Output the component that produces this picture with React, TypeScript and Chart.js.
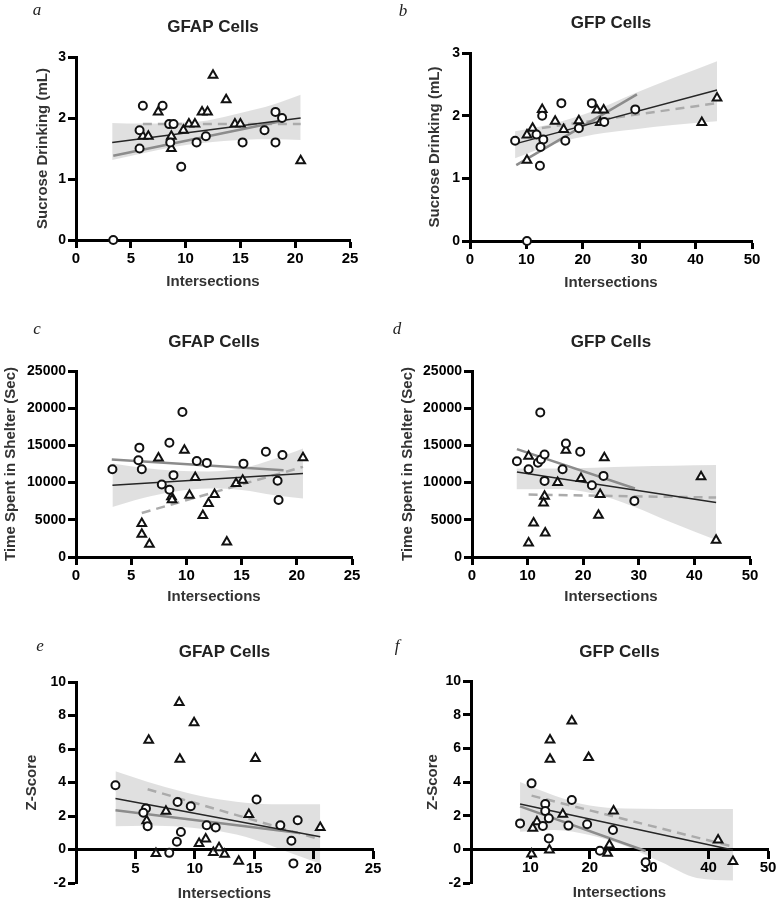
import React, { useEffect, useRef } from "react";
import { Chart, registerables } from "chart.js";
Chart.register(...registerables);

// ---------- Panel a: GFAP Cells, Sucrose Drinking ----------
const aCircleX = [3.4, 6.1, 5.8, 5.8, 7.9, 8.5, 8.9, 8.6, 9.6, 11.0, 11.85, 15.2, 17.2, 18.2, 18.8, 18.2];
const aCircleY = [0, 2.2, 1.8, 1.5, 2.2, 1.9, 1.9, 1.6, 1.2, 1.6, 1.7, 1.6, 1.8, 2.1, 2.0, 1.6];
const aTriX = [6.1, 6.6, 7.5, 8.7, 8.7, 9.8, 10.3, 10.85, 11.5, 12.0, 12.5, 13.7, 14.5, 15.0, 20.5];
const aTriY = [1.7, 1.7, 2.1, 1.7, 1.5, 1.8, 1.9, 1.9, 2.1, 2.1, 2.7, 2.3, 1.9, 1.9, 1.3];
const aAllFitX = [3.3, 20.5];
const aAllFitY = [1.6, 2.0];
const aCircFitX = [3.4, 18.8];
const aCircFitY = [1.38, 1.95];
const aTriFitX = [6.1, 20.5];
const aTriFitY = [1.9, 1.9];
const aBandX = [3.3, 6, 9, 12, 15, 18, 20.5];
const aBandUp = [1.92, 1.91, 1.92, 1.96, 2.08, 2.22, 2.38];
const aBandLo = [1.31, 1.42, 1.53, 1.6, 1.64, 1.65, 1.64];

// ---------- Panel b: GFP Cells, Sucrose Drinking ----------
const bCircleX = [8.0, 10.1, 11.8, 13.0, 12.5, 12.4, 12.8, 16.2, 16.9, 19.3, 21.6, 23.8, 29.3];
const bCircleY = [1.6, 0, 1.7, 1.62, 1.5, 1.2, 2.0, 2.2, 1.6, 1.8, 2.2, 1.9, 2.1];
const bTriX = [10.1, 11.1, 12.8, 15.1, 16.6, 19.3, 22.5, 23.7, 23.1, 10.1, 41.1, 43.8];
const bTriY = [1.69, 1.8, 2.1, 1.91, 1.78, 1.92, 2.09, 2.09, 1.89, 1.29, 1.89, 2.28];
const bAllFitX = [8, 43.8];
const bAllFitY = [1.55, 2.41];
const bCircFitX = [8.2, 29.6];
const bCircFitY = [1.21, 2.34];
const bTriFitX = [10.1, 43.8];
const bTriFitY = [1.77, 2.2];
const bBandX = [8, 15, 22, 29, 36, 43.8];
const bBandUp = [1.75, 1.88, 2.08, 2.35, 2.6, 2.87];
const bBandLo = [1.32, 1.55, 1.7, 1.78, 1.85, 1.91];

// ---------- Panel c: GFAP Cells, Time Spent in Shelter ----------
const cCircleX = [3.3, 5.74, 5.65, 5.96, 8.46, 9.64, 8.83, 7.77, 8.46, 10.94, 11.85, 15.17, 17.2, 18.7, 18.26, 18.35];
const cCircleY = [11800, 14700, 13000, 11800, 15350, 19500, 11000, 9750, 9050, 12900, 12650, 12550, 14150, 13700, 10250, 7650];
const cTriX = [7.47, 9.82, 10.8, 8.65, 8.7, 10.28, 12.55, 12.0, 11.49, 14.5, 15.1, 20.56, 5.96, 5.96, 6.65, 13.66];
const cTriY = [13300, 14350, 10700, 8100, 7700, 8300, 8400, 7200, 5570, 9870, 10300, 13330, 4490, 3050, 1710, 2020];
const cAllFitX = [3.3, 20.56];
const cAllFitY = [9650, 11220];
const cCircFitX = [3.24, 18.8];
const cCircFitY = [13100, 11670];
const cTriFitX = [5.96, 20.56];
const cTriFitY = [5920, 12120];
const cBandX = [3.3, 6, 9, 12, 15, 18, 20.56];
const cBandUp = [12570, 12000, 11600, 11500, 11900, 13200, 14600];
const cBandLo = [6730, 7900, 8800, 9200, 9000, 8300, 7850];

// ---------- Panel d: GFP Cells, Time Spent in Shelter ----------
const dCircleX = [8.08, 10.18, 12.28, 11.86, 12.4, 13.05, 13.05, 16.29, 16.89, 19.46, 21.56, 23.65, 29.2];
const dCircleY = [12880, 11800, 19430, 12660, 13100, 13780, 10230, 11800, 15260, 14140, 9650, 10900, 7540];
const dTriX = [10.18, 15.4, 16.89, 19.6, 23.8, 23.05, 22.75, 13.05, 12.87, 11.08, 13.17, 10.18, 41.2, 43.9];
const dTriY = [13550, 10000, 14360, 10550, 13330, 8390, 5610, 8170, 7270, 4580, 3230, 1890, 10770, 2240];
const dAllFitX = [8.08, 43.9];
const dAllFitY = [11440, 7320];
const dCircFitX = [8.08, 29.3];
const dCircFitY = [14500, 9200];
const dTriFitX = [10.18, 43.9];
const dTriFitY = [8390, 7990];
const dBandX = [8, 15, 22, 29, 36, 43.9];
const dBandUp = [11900, 11900, 12000, 12150, 12250, 12350];
const dBandLo = [9100, 9150, 8500, 6800, 4600, 2300];

// ---------- Panel e: GFAP Cells, Z-Score ----------
const eCircleX = [3.32, 5.89, 5.67, 6.03, 8.55, 9.66, 8.83, 8.49, 7.85, 11.0, 11.76, 15.2, 17.2, 18.66, 18.13, 18.3];
const eCircleY = [3.84, 2.45, 2.19, 1.39, 2.84, 2.58, 1.05, 0.46, -0.2, 1.45, 1.31, 2.98, 1.45, 1.75, 0.52, -0.83];
const eTriX = [8.69, 9.94, 6.12, 8.74, 15.1, 7.57, 14.55, 20.56, 5.95, 6.73, 10.36, 10.92, 11.56, 12.04, 12.51, 13.7];
const eTriY = [8.77, 7.57, 6.52, 5.39, 5.43, 2.29, 2.09, 1.31, 1.71, -0.24, 0.36, 0.62, -0.18, 0.1, -0.28, -0.7];
const eAllFitX = [3.32, 20.56];
const eAllFitY = [3.04, 0.76];
const eCircFitX = [3.32, 18.66];
const eCircFitY = [2.35, 1.0];
const eTriFitX = [6.03, 20.56];
const eTriFitY = [3.6, 0.6];
const eBandX = [3.32, 6, 9, 12, 15, 18, 20.56];
const eBandUp = [4.67, 4.05, 3.45, 3.0, 2.75, 2.7, 2.7];
const eBandLo = [1.39, 1.42, 1.35, 1.1, 0.6, -0.2, -0.85];

// ---------- Panel f: GFP Cells, Z-Score ----------
const fCircleX = [8.26, 10.2, 12.5, 12.5, 13.1, 12.1, 13.1, 16.97, 16.4, 19.55, 23.9, 21.7, 29.4];
const fCircleY = [1.54, 3.92, 2.69, 2.28, 1.84, 1.39, 0.65, 2.93, 1.41, 1.49, 1.15, -0.08, -0.77];
const fTriX = [16.97, 13.3, 13.3, 19.8, 24.0, 15.45, 11.1, 10.4, 10.2, 13.2, 23.3, 23.0, 41.6, 44.1];
const fTriY = [7.62, 6.5, 5.35, 5.45, 2.28, 2.08, 1.64, 1.25, -0.28, -0.04, 0.26, -0.24, 0.55, -0.73];
const fAllFitX = [8.26, 44.1];
const fAllFitY = [2.69, -0.04];
const fCircFitX = [8.26, 29.4];
const fCircFitY = [2.55, -0.1];
const fTriFitX = [10.2, 44.1];
const fTriFitY = [3.19, 0.16];
const fBandX = [8.26, 14, 20, 26, 32, 38, 44.1];
const fBandUp = [4.0, 3.2, 2.6, 2.42, 2.4, 2.4, 2.4];
const fBandLo = [1.05, 1.15, 0.85, 0.2, -0.75, -1.7, -1.85];

// ---------- text ----------
const GFAP_TITLE = "GFAP Cells";
const GFP_TITLE = "GFP Cells";
const X_TITLE = "Intersections";
const Y_SUCROSE = "Sucrose Drinking (mL)";
const Y_SHELTER = "Time Spent in Shelter (Sec)";
const Y_Z = "Z-Score";

type Pt = { x: number; y: number };
const zip = (xs: number[], ys: number[]): Pt[] => xs.map((x, i) => ({ x, y: ys[i] }));

const SANS = "'Liberation Sans', Arial, Helvetica, sans-serif";
const TITLE_SIZE = 17;
const AXIS_TITLE_SIZE = 15;

interface PanelDef {
  letter: string;
  letterPos: [number, number];
  title: string;
  yTitle: string;
  box: [number, number, number, number]; // canvas x, y, w, h
  area: [number, number, number, number]; // chart area L, T, R, B
  titleY: number;
  yTitleX: number;
  xTitleY: number;
  xMax: number;
  xStep: number;
  yMin: number;
  yMax: number;
  yStep: number;
  xAtZero: boolean;
  zeroY?: number;
  circles: Pt[];
  triangles: Pt[];
  allFit: Pt[];
  circFit: Pt[];
  triFit: Pt[];
  bandUp: Pt[];
  bandLo: Pt[];
}

const panels: PanelDef[] = [
  {
    letter: "a", letterPos: [37, 9], title: GFAP_TITLE, yTitle: Y_SUCROSE,
    box: [0, 0, 390, 292], area: [76, 57, 350, 240], titleY: 27, yTitleX: 43, xTitleY: 282,
    xMax: 25, xStep: 5, yMin: 0, yMax: 3, yStep: 1, xAtZero: false,
    circles: zip(aCircleX, aCircleY), triangles: zip(aTriX, aTriY),
    allFit: zip(aAllFitX, aAllFitY), circFit: zip(aCircFitX, aCircFitY), triFit: zip(aTriFitX, aTriFitY),
    bandUp: zip(aBandX, aBandUp), bandLo: zip(aBandX, aBandLo),
  },
  {
    letter: "b", letterPos: [403, 10], title: GFP_TITLE, yTitle: Y_SUCROSE,
    box: [390, 0, 390, 292], area: [470, 53, 752, 241], titleY: 23, yTitleX: 435, xTitleY: 283,
    xMax: 50, xStep: 10, yMin: 0, yMax: 3, yStep: 1, xAtZero: false,
    circles: zip(bCircleX, bCircleY), triangles: zip(bTriX, bTriY),
    allFit: zip(bAllFitX, bAllFitY), circFit: zip(bCircFitX, bCircFitY), triFit: zip(bTriFitX, bTriFitY),
    bandUp: zip(bBandX, bBandUp), bandLo: zip(bBandX, bBandLo),
  },
  {
    letter: "c", letterPos: [37, 328], title: GFAP_TITLE, yTitle: Y_SHELTER,
    box: [0, 295, 390, 312], area: [76, 371, 352, 557], titleY: 342, yTitleX: 11, xTitleY: 597,
    xMax: 25, xStep: 5, yMin: 0, yMax: 25000, yStep: 5000, xAtZero: false,
    circles: zip(cCircleX, cCircleY), triangles: zip(cTriX, cTriY),
    allFit: zip(cAllFitX, cAllFitY), circFit: zip(cCircFitX, cCircFitY), triFit: zip(cTriFitX, cTriFitY),
    bandUp: zip(cBandX, cBandUp), bandLo: zip(cBandX, cBandLo),
  },
  {
    letter: "d", letterPos: [397, 328], title: GFP_TITLE, yTitle: Y_SHELTER,
    box: [390, 295, 390, 312], area: [472, 371, 750, 557], titleY: 342, yTitleX: 408, xTitleY: 597,
    xMax: 50, xStep: 10, yMin: 0, yMax: 25000, yStep: 5000, xAtZero: false,
    circles: zip(dCircleX, dCircleY), triangles: zip(dTriX, dTriY),
    allFit: zip(dAllFitX, dAllFitY), circFit: zip(dCircFitX, dCircFitY), triFit: zip(dTriFitX, dTriFitY),
    bandUp: zip(dBandX, dBandUp), bandLo: zip(dBandX, dBandLo),
  },
  {
    letter: "e", letterPos: [40, 645], title: GFAP_TITLE, yTitle: Y_Z,
    box: [0, 610, 390, 293], area: [76, 682, 373, 883], titleY: 652, yTitleX: 32, xTitleY: 893,
    xMax: 25, xStep: 5, yMin: -2, yMax: 10, yStep: 2, xAtZero: true, zeroY: 849,
    circles: zip(eCircleX, eCircleY), triangles: zip(eTriX, eTriY),
    allFit: zip(eAllFitX, eAllFitY), circFit: zip(eCircFitX, eCircFitY), triFit: zip(eTriFitX, eTriFitY),
    bandUp: zip(eBandX, eBandUp), bandLo: zip(eBandX, eBandLo),
  },
  {
    letter: "f", letterPos: [397, 645], title: GFP_TITLE, yTitle: Y_Z,
    box: [390, 610, 390, 293], area: [471, 681, 768, 883], titleY: 652, yTitleX: 433, xTitleY: 893,
    xMax: 50, xStep: 10, yMin: -2, yMax: 10, yStep: 2, xAtZero: true, zeroY: 849,
    circles: zip(fCircleX, fCircleY), triangles: zip(fTriX, fTriY),
    allFit: zip(fAllFitX, fAllFitY), circFit: zip(fCircFitX, fCircFitY), triFit: zip(fTriFitX, fTriFitY),
    bandUp: zip(fBandX, fBandUp), bandLo: zip(fBandX, fBandLo),
  },
];

function Panel({ def }: { def: PanelDef }) {
  const ref = useRef<HTMLCanvasElement | null>(null);
  const [x0, y0, w, h] = def.box;

  useEffect(() => {
    const [L, T, R, B] = def.area;
    const titleLH = TITLE_SIZE * 1.2;
    const tPadTop = def.titleY - y0 - titleLH / 2;
    const tPadBottom = T - y0 - tPadTop - titleLH;
    const axisLH = AXIS_TITLE_SIZE * 1.2;
    const yScaleWidth = L - x0;
    const yTitlePadTop = def.yTitleX - x0 - axisLH / 2;
    const layoutBottom = def.xAtZero ? y0 + h - B : 0;
    const xScaleHeight = def.xAtZero ? 60 : y0 + h - B;
    const xTitlePadBottom = def.xAtZero
      ? (def.zeroY as number) + xScaleHeight - axisLH / 2 - def.xTitleY
      : y0 + h - axisLH / 2 - def.xTitleY;

    const pointBase = {
      showLine: false,
      pointBackgroundColor: "#ffffff",
      pointBorderColor: "#111111",
      pointBorderWidth: 2,
      borderColor: "#111111",
      backgroundColor: "#ffffff",
      clip: false as any,
    };
    const lineBase = {
      showLine: true,
      pointRadius: 0,
      pointHoverRadius: 0,
      fill: false,
    };

    const chart = new Chart(ref.current as HTMLCanvasElement, {
      type: "scatter",
      data: {
        datasets: [
          { ...pointBase, label: "circles", data: def.circles, pointStyle: "circle", pointRadius: 4, order: 0 },
          { ...pointBase, label: "triangles", data: def.triangles, pointStyle: "triangle", pointRadius: 5, order: 1 },
          { ...lineBase, label: "all", data: def.allFit, borderColor: "#262626", borderWidth: 1.5, order: 2 },
          { ...lineBase, label: "circle fit", data: def.circFit, borderColor: "#8c8c8c", borderWidth: 2.5, order: 3 },
          { ...lineBase, label: "triangle fit", data: def.triFit, borderColor: "#ababab", borderWidth: 2.5, borderDash: [9, 6], order: 4 },
          { ...lineBase, label: "band upper", data: def.bandUp, borderColor: "rgba(0,0,0,0)", borderWidth: 1, cubicInterpolationMode: "monotone", order: 5 },
          { ...lineBase, label: "band lower", data: def.bandLo, borderColor: "rgba(0,0,0,0)", borderWidth: 1, cubicInterpolationMode: "monotone", fill: "-1", backgroundColor: "rgba(0,0,0,0.12)", order: 6 },
        ] as any,
      },
      options: {
        animation: false,
        responsive: false,
        devicePixelRatio: 1,
        layout: { padding: { left: 0, right: x0 + w - R, top: 0, bottom: layoutBottom } },
        plugins: {
          legend: { display: false },
          tooltip: { enabled: false },
          title: {
            display: true,
            text: def.title,
            fullSize: false,
            color: "#222222",
            font: { family: SANS, size: TITLE_SIZE, weight: "bold" },
            padding: { top: tPadTop, bottom: tPadBottom },
          },
        },
        scales: {
          x: {
            type: "linear",
            min: 0,
            max: def.xMax,
            position: def.xAtZero ? ({ y: 0 } as any) : "bottom",
            ticks: {
              stepSize: def.xStep,
              autoSkip: false,
              maxRotation: 0,
              padding: 2,
              color: "#000000",
              font: { family: SANS, size: 15, weight: "bold" },
              callback: (v: any) => (def.xAtZero && Number(v) === 0 ? "" : String(v)),
            },
            grid: { display: true, drawOnChartArea: false, drawTicks: true, tickLength: 8, tickWidth: 3, tickColor: "#000000" },
            border: { display: true, color: "#000000", width: 3 },
            title: {
              display: true,
              text: X_TITLE,
              color: "#333333",
              font: { family: SANS, size: AXIS_TITLE_SIZE, weight: "bold" },
              padding: { top: 0, bottom: xTitlePadBottom },
            },
            afterFit: (s: any) => { s.height = xScaleHeight; },
          },
          y: {
            type: "linear",
            min: def.yMin,
            max: def.yMax,
            position: "left",
            ticks: {
              stepSize: def.yStep,
              autoSkip: false,
              padding: 2,
              color: "#000000",
              font: { family: SANS, size: 14, weight: "bold" },
              callback: (v: any) => String(v),
            },
            grid: { display: true, drawOnChartArea: false, drawTicks: true, tickLength: 8, tickWidth: 3, tickColor: "#000000" },
            border: { display: true, color: "#000000", width: 3 },
            title: {
              display: true,
              text: def.yTitle,
              color: "#333333",
              font: { family: SANS, size: AXIS_TITLE_SIZE, weight: "bold" },
              padding: { top: yTitlePadTop, bottom: 0 },
            },
            afterFit: (s: any) => { s.width = yScaleWidth; },
          },
        },
      } as any,
    });
    return () => chart.destroy();
  }, []);

  return (
    <>
      <canvas
        ref={ref}
        width={w}
        height={h}
        style={{ position: "absolute", left: x0, top: y0, width: w, height: h }}
      />
      <div
        style={{
          position: "absolute",
          left: def.letterPos[0],
          top: def.letterPos[1],
          transform: "translate(-50%, -50%)",
          fontFamily: "'Liberation Serif', 'DejaVu Serif', serif",
          fontStyle: "italic",
          fontSize: 17,
          color: "#222",
          lineHeight: 1,
        }}
      >
        {def.letter}
      </div>
    </>
  );
}

export default function App() {
  return (
    <div style={{ position: "absolute", left: 0, top: 0, width: 780, height: 903, background: "#ffffff", overflow: "hidden" }}>
      {panels.map((p) => (
        <Panel key={p.letter} def={p} />
      ))}
    </div>
  );
}
